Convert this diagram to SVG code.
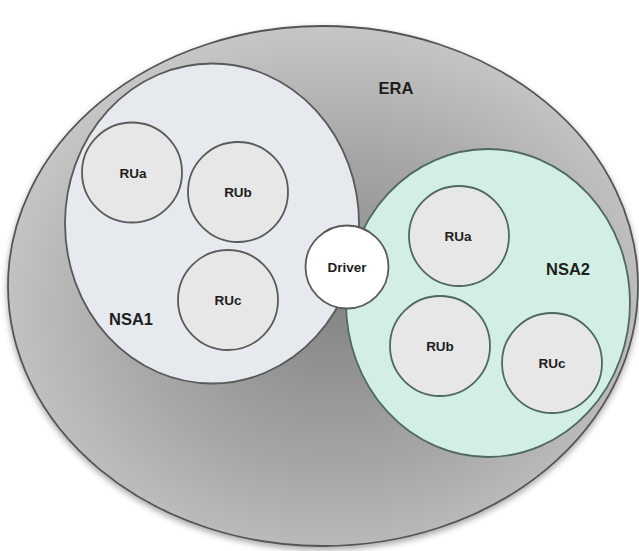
<svg xmlns="http://www.w3.org/2000/svg" width="639" height="551" viewBox="0 0 639 551">
<defs>
<radialGradient id="eraGrad" cx="0.52" cy="0.55" r="0.55">
<stop offset="0" stop-color="#868686"/>
<stop offset="0.55" stop-color="#a6a6a6"/>
<stop offset="1" stop-color="#c6c6c6"/>
</radialGradient>
<filter id="shadow" x="-10%" y="-10%" width="120%" height="125%">
<feDropShadow dx="0" dy="3" stdDeviation="3" flood-color="#000" flood-opacity="0.35"/>
</filter>
</defs>
<style>
text{font-family:"Liberation Sans",Arial,sans-serif;font-weight:bold;fill:#1e1e1e;text-anchor:middle}
.big{font-size:16.5px}
.ru{font-size:13.5px}
.ru1{fill:#e8e7e7;stroke:#5a5a5a;stroke-width:1.8}
.ru2{fill:#e8e7e7;stroke:#4e6a5c;stroke-width:1.8}
</style>
<rect width="639" height="551" fill="#ffffff"/>
<g id="ERA">
<ellipse cx="323" cy="286" rx="315" ry="260" fill="url(#eraGrad)" stroke="#555555" stroke-width="1.8" filter="url(#shadow)"/>
<text class="big" x="396" y="94">ERA</text>
</g>
<g id="NSA1">
<ellipse cx="212" cy="223.5" rx="147" ry="160" fill="#e6e9ee" stroke="#595959" stroke-width="1.8"/>
<text class="big" x="131" y="325">NSA1</text>
</g>
<g id="NSA2">
<ellipse cx="488" cy="303" rx="142" ry="154" fill="#d3eee2" stroke="#4e6a5c" stroke-width="1.8"/>
<text class="big" x="568" y="275">NSA2</text>
</g>
<g id="NSA1-RUa">
<circle class="ru1" cx="132" cy="172.5" r="50"/>
<text class="ru" x="133" y="178">RUa</text>
</g>
<g id="NSA1-RUb">
<circle class="ru1" cx="238" cy="192" r="50"/>
<text class="ru" x="238" y="197">RUb</text>
</g>
<g id="NSA1-RUc">
<circle class="ru1" cx="228" cy="300" r="50"/>
<text class="ru" x="228" y="305">RUc</text>
</g>
<g id="NSA2-RUa">
<circle class="ru2" cx="459" cy="236" r="50"/>
<text class="ru" x="458" y="241">RUa</text>
</g>
<g id="NSA2-RUb">
<circle class="ru2" cx="440" cy="346" r="50"/>
<text class="ru" x="440" y="351">RUb</text>
</g>
<g id="NSA2-RUc">
<circle class="ru2" cx="552" cy="363" r="50"/>
<text class="ru" x="552" y="368">RUc</text>
</g>
<g id="Driver">
<circle cx="347" cy="267" r="41.5" fill="#ffffff" stroke="#5a5a5a" stroke-width="1.8"/>
<text class="ru" x="347" y="272">Driver</text>
</g>
<g id="connectors"/>
</svg>
